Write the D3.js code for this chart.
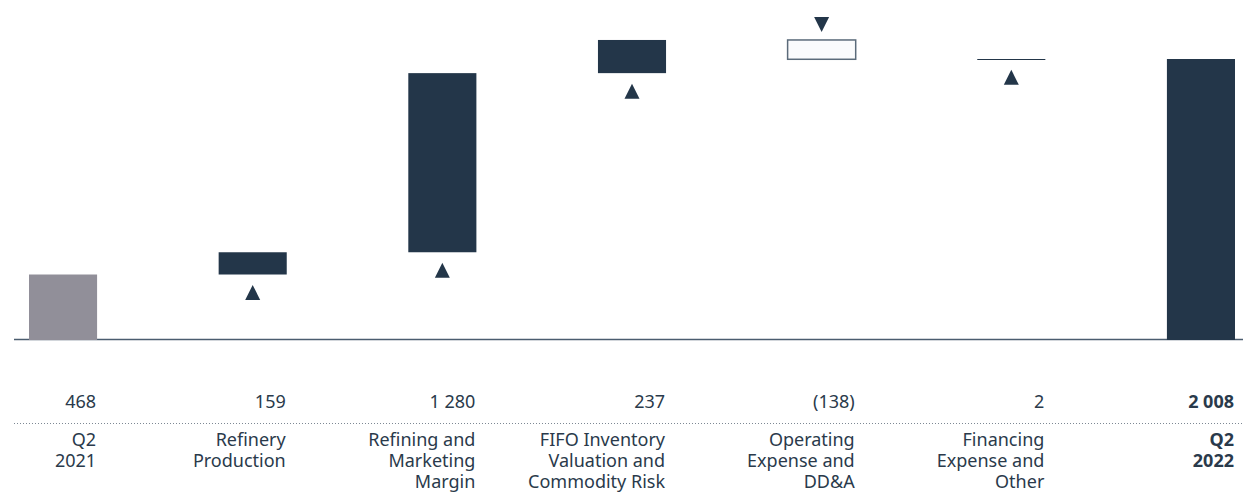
<!DOCTYPE html>
<html>
<head>
<meta charset="utf-8">
<script src="https://cdn.jsdelivr.net/npm/d3@7"></script>
<style>
  html, body { margin: 0; padding: 0; background: #ffffff; }
  svg { display: block; font-family: "Noto Sans", "Open Sans", sans-serif; }
</style>
</head>
<body>
<div id="chart"></div>
<script>
// waterfall data (bridge from Q2 2021 to Q2 2022)
const categories = ["q2_2021", "refinery", "margin", "fifo", "opex", "financing", "q2_2022"];
const labels = [
  ["Q2", "2021"],
  ["Refinery", "Production"],
  ["Refining and", "Marketing", "Margin"],
  ["FIFO Inventory", "Valuation and", "Commodity Risk"],
  ["Operating", "Expense and", "DD&A"],
  ["Financing", "Expense and", "Other"],
  ["Q2", "2022"]
];
const values = [468, 159, 1280, 237, -138, 2, 2008];
const kinds = ["start", "delta", "delta", "delta", "delta", "delta", "total"];

const width = 1243;
const height = 494;
const baseY = 340;
const topY = 59;
const darkBlue = "#233649";
const greyBar = "#918f99";
const textColor = "#2a3a4b";

const fmtNum = d3.formatLocale({ decimal: ".", thousands: " ", grouping: [3], currency: ["", ""] }).format(",");
const fmtValue = (v) => (v < 0 ? `(${fmtNum(-v)})` : fmtNum(v));

// compute running totals
let running = 0;
const bars = categories.map((c, i) => {
  const v = values[i];
  let y0, y1;
  if (kinds[i] === "delta") {
    y0 = running;
    y1 = running + v;
    running = y1;
  } else {
    y0 = 0;
    y1 = v;
    running = v;
  }
  return { id: c, value: v, kind: kinds[i], lo: Math.min(y0, y1), hi: Math.max(y0, y1), label: labels[i] };
});

const x = d3.scaleBand()
  .domain(categories)
  .range([29, 1235])
  .paddingInner(0.641)
  .paddingOuter(0);

const y = d3.scaleLinear()
  .domain([0, values[values.length - 1]])
  .range([baseY, topY]);

const svg = d3.select("#chart")
  .append("svg")
  .attr("width", width)
  .attr("height", height);

// baseline
svg.append("line")
  .attr("x1", 14)
  .attr("x2", width)
  .attr("y1", baseY - 0.5)
  .attr("y2", baseY - 0.5)
  .attr("stroke", "#4b5d6f")
  .attr("stroke-width", 1.5);

// bars
const barG = svg.append("g").attr("class", "bars");

barG.selectAll("rect")
  .data(bars)
  .join("rect")
  .attr("x", (d) => x(d.id))
  .attr("width", x.bandwidth())
  .attr("y", (d) => y(d.hi))
  .attr("height", (d) => Math.max(y(d.lo) - y(d.hi), 1))
  .attr("fill", (d) => {
    if (d.kind === "start") return greyBar;
    if (d.value < 0) return "#fafbfc";
    return darkBlue;
  })
  .attr("stroke", (d) => (d.kind === "delta" && d.value < 0 ? "#5b6b7a" : "none"))
  .attr("stroke-width", 1.5);

// direction triangles for the deltas
const triW = 15;
const triH = 15;
barG.selectAll("path.tri")
  .data(bars.filter((d) => d.kind === "delta"))
  .join("path")
  .attr("class", "tri")
  .attr("fill", darkBlue)
  .attr("d", (d) => {
    const cx = x(d.id) + x.bandwidth() / 2;
    if (d.value >= 0) {
      const apex = y(d.lo) + 10.5;
      return `M${cx},${apex} L${cx + triW / 2},${apex + triH} L${cx - triW / 2},${apex + triH} Z`;
    }
    const apex = y(d.hi) - 8;
    return `M${cx},${apex} L${cx + triW / 2},${apex - triH} L${cx - triW / 2},${apex - triH} Z`;
  });

// value row
svg.append("g")
  .selectAll("text")
  .data(bars)
  .join("text")
  .attr("x", (d) => x(d.id) + x.bandwidth() - 1)
  .attr("y", 408)
  .attr("text-anchor", "end")
  .attr("fill", textColor)
  .attr("font-size", 18)
  .attr("font-weight", (d) => (d.kind === "total" ? 700 : 400))
  .text((d) => fmtValue(d.value));

// dotted separator
svg.append("line")
  .attr("x1", 14)
  .attr("x2", width)
  .attr("y1", 423.5)
  .attr("y2", 423.5)
  .attr("stroke", "#7d8894")
  .attr("stroke-width", 1)
  .attr("stroke-dasharray", "1 2");

// category labels (the third line sits at the bottom edge, as in the source)
const catText = svg.append("g")
  .selectAll("text")
  .data(bars)
  .join("text")
  .attr("text-anchor", "end")
  .attr("fill", textColor)
  .attr("font-size", 18)
  .attr("font-weight", (d) => (d.kind === "total" ? 700 : 400));

catText.selectAll("tspan")
  .data((d) => d.label.map((l) => ({ l, d })))
  .join("tspan")
  .attr("x", (t) => x(t.d.id) + x.bandwidth() - 1)
  .attr("y", (t, i) => 446 + i * 21)
  .text((t) => t.l);
</script>
</body>
</html>
